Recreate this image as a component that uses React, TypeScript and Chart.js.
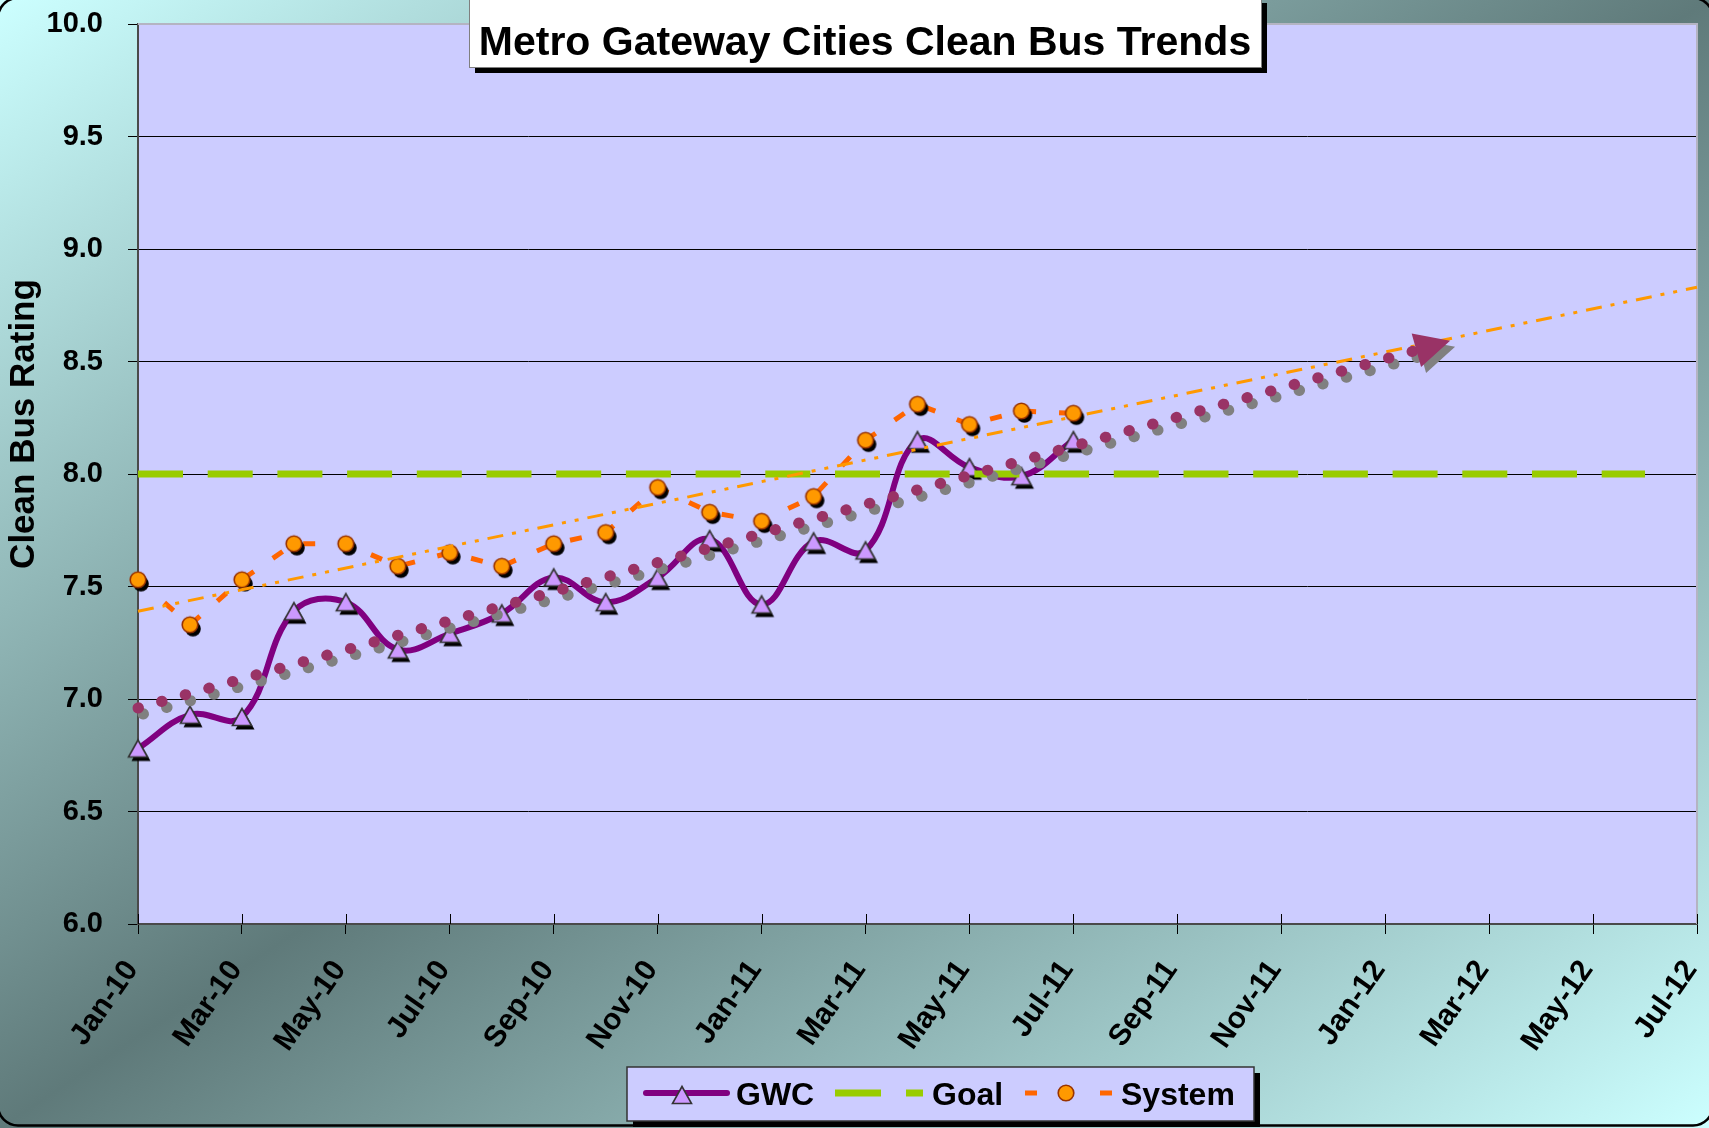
import React, { useEffect, useRef } from "react";
import { Chart, registerables } from "chart.js";

Chart.register(...registerables);

const W = 1709;
const H = 1128;
const FONT = '"Liberation Sans", Arial, Helvetica, sans-serif';

// ---------- data ----------
const months = [
  "Jan-10", "Feb-10", "Mar-10", "Apr-10", "May-10", "Jun-10", "Jul-10", "Aug-10",
  "Sep-10", "Oct-10", "Nov-10", "Dec-10", "Jan-11", "Feb-11", "Mar-11", "Apr-11",
  "May-11", "Jun-11", "Jul-11", "Aug-11", "Sep-11", "Oct-11", "Nov-11", "Dec-11",
  "Jan-12", "Feb-12", "Mar-12", "Apr-12", "May-12", "Jun-12", "Jul-12",
];
const gwc = [6.78, 6.93, 6.92, 7.39, 7.43, 7.22, 7.29, 7.38, 7.54, 7.43, 7.54, 7.71, 7.42, 7.70, 7.66, 8.15, 8.03, 7.99, 8.15];
const system = [7.53, 7.33, 7.53, 7.69, 7.69, 7.59, 7.65, 7.59, 7.69, 7.74, 7.94, 7.83, 7.79, 7.90, 8.15, 8.31, 8.22, 8.28, 8.27];
const goal = [8.0, 8.0, 8.0, 8.0, 8.0, 8.0, 8.0, 8.0, 8.0, 8.0, 8.0, 8.0, 8.0, 8.0, 8.0, 8.0, 8.0, 8.0, 8.0, 8.0, 8.0, 8.0, 8.0, 8.0, 8.0, 8.0, 8.0, 8.0, 8.0, 8.0];
const gwcTrendX = [0, 24.6];
const gwcTrendY = [6.96, 8.55];
const systemTrendX = [0, 30];
const systemTrendY = [7.39, 8.83];
const yMin = 6.0;
const yMax = 10.0;
const yStep = 0.5;
const xStep = 2;
const chartTitle = "Metro Gateway Cities Clean Bus Trends";
const yAxisTitle = "Clean Bus Rating";
const seriesNames = ["GWC", "Goal", "System"];

// ---------- colours ----------
const C_GWC = "#800080";
const C_GWC_FILL = "#CC99FF";
const C_GOAL = "#99CC00";
const C_SYS = "#FF6600";
const C_SYS_FILL = "#FF9900";
const C_SYS_EDGE = "#993300";
const C_GWC_TREND = "#993366";
const C_SYS_TREND = "#FF9900";
const C_PLOT = "#CCCCFF";

function makeMarker(kind: "tri" | "circle", shadow: boolean): HTMLCanvasElement {
  const c = document.createElement("canvas");
  c.width = 44;
  c.height = 44;
  const g = c.getContext("2d")!;
  const cx = 22;
  const cy = 22;
  const path = (ox: number, oy: number) => {
    g.beginPath();
    if (kind === "tri") {
      const hw = 9.5;
      const hh = 8.5;
      g.moveTo(cx + ox, cy + oy - hh);
      g.lineTo(cx + ox + hw, cy + oy + hh);
      g.lineTo(cx + ox - hw, cy + oy + hh);
      g.closePath();
    } else {
      g.arc(cx + ox, cy + oy, 7.8, 0, Math.PI * 2);
    }
  };
  if (shadow) {
    path(3, 4);
    g.fillStyle = "#000";
    g.fill();
  }
  path(0, 0);
  g.fillStyle = kind === "tri" ? C_GWC_FILL : C_SYS_FILL;
  g.fill();
  g.lineWidth = 1.6;
  g.lineJoin = "miter";
  g.strokeStyle = kind === "tri" ? "#333333" : C_SYS_EDGE;
  g.stroke();
  return c;
}

export default function App() {
  const ref = useRef<HTMLCanvasElement>(null);

  useEffect(() => {
    document.body.style.margin = "0";
    const canvas = ref.current!;
    const triS = makeMarker("tri", true);
    const circS = makeMarker("circle", true);
    const triL = makeMarker("tri", false);
    const circL = makeMarker("circle", false);

    const byIndex = (arr: number[]) => arr.map((y, i) => ({ x: i, y }));
    const byXY = (xs: number[], ys: number[]) => ys.map((y, i) => ({ x: xs[i], y }));

    const gwcPts = byIndex(gwc);
    const sysPts = byIndex(system);
    const goalPts = byIndex(goal);

    const bgPlugin = {
      id: "bg",
      beforeDraw(chart: any) {
        const { ctx, chartArea: a } = chart;
        ctx.save();
        const lam = (W * H) / (W * W + H * H);
        const vx = lam * H;
        const vy = lam * W;
        const g = ctx.createLinearGradient(W / 2 - vx, H / 2 - vy, W / 2 + vx, H / 2 + vy);
        g.addColorStop(0, "#CCFFFF");
        g.addColorStop(0.5, "#5F7A7A");
        g.addColorStop(1, "#CCFFFF");
        ctx.fillStyle = g;
        ctx.fillRect(0, 0, W, H);
        ctx.beginPath();
        ctx.roundRect(-2, -2, W + 6, H - 0.5, 20);
        ctx.lineWidth = 2.5;
        ctx.strokeStyle = "#000";
        ctx.stroke();
        ctx.fillStyle = C_PLOT;
        ctx.fillRect(a.left, a.top, a.right - a.left, a.bottom - a.top);
        ctx.restore();
      },
      beforeDatasetsDraw(chart: any) {
        const { ctx, chartArea: a, scales } = chart;
        ctx.save();
        ctx.strokeStyle = "#B4B4C2";
        ctx.lineWidth = 2;
        ctx.beginPath();
        ctx.moveTo(a.left, a.top);
        ctx.lineTo(a.right, a.top);
        ctx.lineTo(a.right, a.bottom);
        ctx.stroke();
        ctx.strokeStyle = "#000";
        ctx.lineWidth = 1;
        for (const t of scales.x.ticks) {
          const px = Math.round(scales.x.getPixelForValue(t.value)) + 0.5;
          ctx.beginPath();
          ctx.moveTo(px, a.bottom - 10);
          ctx.lineTo(px, a.bottom);
          ctx.stroke();
        }
        ctx.restore();
      },
    };

    const shadowPlugin = {
      id: "shadowArrow",
      beforeDatasetDraw(chart: any, args: any) {
        const ds = chart.data.datasets[args.index];
        if (ds.shadow) {
          const ctx = chart.ctx;
          ctx.save();
          ctx.shadowColor = ds.shadow.color;
          ctx.shadowOffsetX = ds.shadow.x;
          ctx.shadowOffsetY = ds.shadow.y;
          ctx.shadowBlur = 0;
        }
      },
      afterDatasetDraw(chart: any, args: any) {
        const ds = chart.data.datasets[args.index];
        const ctx = chart.ctx;
        if (ds.arrow) {
          const pts = args.meta.data;
          const p1 = pts[pts.length - 1];
          const p0 = pts[pts.length - 2];
          const dx = p1.x - p0.x;
          const dy = p1.y - p0.y;
          const len = Math.hypot(dx, dy);
          const ux = dx / len;
          const uy = dy / len;
          const L = 35;
          const hw = 17.5;
          ctx.beginPath();
          ctx.moveTo(p1.x + ux * L, p1.y + uy * L);
          ctx.lineTo(p1.x - uy * hw, p1.y + ux * hw);
          ctx.lineTo(p1.x + uy * hw, p1.y - ux * hw);
          ctx.closePath();
          ctx.fillStyle = ds.borderColor;
          ctx.fill();
        }
        if (ds.shadow) ctx.restore();
      },
    };

    const overlayPlugin = {
      id: "overlay",
      afterDraw(chart: any) {
        const ctx = chart.ctx;
        ctx.save();
        // y axis title
        ctx.save();
        ctx.translate(24, 424);
        ctx.rotate(-Math.PI / 2);
        ctx.font = `bold 35px ${FONT}`;
        ctx.fillStyle = "#000";
        ctx.textAlign = "center";
        ctx.textBaseline = "middle";
        ctx.fillText(yAxisTitle, 0, 0);
        ctx.restore();

        // title box
        const tx = 469, ty = -3, tw = 792, th = 70;
        ctx.fillStyle = "#000";
        ctx.fillRect(tx + 6, ty + 6, tw, th);
        ctx.fillStyle = "#FFFFFF";
        ctx.fillRect(tx, ty, tw, th);
        ctx.strokeStyle = "#7F7F7F";
        ctx.lineWidth = 1;
        ctx.strokeRect(tx + 0.5, ty + 0.5, tw, th);
        ctx.fillStyle = "#000";
        ctx.font = `bold 41px ${FONT}`;
        ctx.textAlign = "center";
        ctx.textBaseline = "alphabetic";
        ctx.fillText(chartTitle, tx + tw / 2, 55);

        // legend
        const lx = 627, ly = 1067, lw = 627, lh = 54;
        ctx.fillStyle = "#000";
        ctx.fillRect(lx + 6, ly + 6, lw, lh);
        ctx.fillStyle = C_PLOT;
        ctx.fillRect(lx, ly, lw, lh);
        ctx.strokeStyle = "#333";
        ctx.lineWidth = 1.5;
        ctx.strokeRect(lx, ly, lw, lh);
        const cy = 1093;
        ctx.font = `bold 32px ${FONT}`;
        ctx.textAlign = "left";
        ctx.fillStyle = "#000";
        ctx.strokeStyle = C_GWC;
        ctx.lineWidth = 6;
        ctx.lineCap = "round";
        ctx.beginPath();
        ctx.moveTo(646, cy);
        ctx.lineTo(727, cy);
        ctx.stroke();
        ctx.drawImage(triL, 682 - triL.width / 2, cy - triL.height / 2 + 2);
        ctx.fillText(seriesNames[0], 736, 1105);
        ctx.lineCap = "butt";
        ctx.strokeStyle = C_GOAL;
        ctx.lineWidth = 7;
        ctx.beginPath();
        ctx.moveTo(835, cy);
        ctx.lineTo(881, cy);
        ctx.moveTo(906, cy);
        ctx.lineTo(923, cy);
        ctx.stroke();
        ctx.fillText(seriesNames[1], 932, 1105);
        ctx.strokeStyle = C_SYS;
        ctx.lineWidth = 5;
        ctx.beginPath();
        ctx.moveTo(1025, cy);
        ctx.lineTo(1037, cy);
        ctx.moveTo(1100, cy);
        ctx.lineTo(1112, cy);
        ctx.stroke();
        ctx.drawImage(circL, 1066 - circL.width / 2, cy - circL.height / 2);
        ctx.fillText(seriesNames[2], 1121, 1105);
        ctx.restore();
      },
    };

    const yTickFont = { family: FONT, size: 29, weight: "bold" as const };
    const xTickFont = { family: FONT, size: 30, weight: "bold" as const };

    const chart = new Chart(canvas, {
      type: "line",
      data: {
        datasets: [
          {
            label: "GWC trend",
            data: byXY(gwcTrendX, gwcTrendY),
            borderColor: C_GWC_TREND,
            borderWidth: 11,
            borderDash: [0.5, 24],
            borderCapStyle: "round",
            pointRadius: 0,
            order: 1,
            clip: false,
            shadow: { color: "#808080", x: 5, y: 6 },
            arrow: true,
          } as any,
          {
            label: "System trend",
            data: byXY(systemTrendX, systemTrendY),
            borderColor: C_SYS_TREND,
            borderWidth: 3,
            borderDash: [16, 9, 4, 9, 4, 9],
            pointRadius: 0,
            order: 2,
            clip: false,
          },
          {
            label: "System markers",
            data: sysPts,
            showLine: false,
            pointStyle: circS,
            pointRadius: 9,
            order: 3,
            clip: false,
          },
          {
            label: "System",
            data: sysPts,
            borderColor: C_SYS,
            borderWidth: 5,
            borderDash: [12, 23],
            pointRadius: 0,
            tension: 0,
            order: 4,
            clip: false,
          },
          {
            label: "Goal",
            data: goalPts,
            borderColor: C_GOAL,
            borderWidth: 7,
            borderDash: [45, 24.7],
            pointRadius: 0,
            order: 5,
            clip: false,
          },
          {
            label: "GWC markers",
            data: gwcPts,
            showLine: false,
            pointStyle: triS,
            pointRadius: 10,
            order: 6,
            clip: false,
          },
          {
            label: "GWC",
            data: gwcPts,
            borderColor: C_GWC,
            borderWidth: 6,
            tension: 0.4,
            pointRadius: 0,
            order: 7,
            clip: false,
          },
        ],
      },
      options: {
        animation: false,
        responsive: false,
        devicePixelRatio: 1,
        events: [],
        layout: { padding: { top: 24, right: 12, left: 0, bottom: 0 } },
        plugins: {
          legend: { display: false },
          title: { display: false },
          tooltip: { enabled: false },
        },
        scales: {
          x: {
            type: "linear",
            min: 0,
            max: months.length - 1,
            afterFit: (s: any) => {
              s.height = 204;
              s.paddingLeft = 0;
              s.paddingRight = 0;
            },
            ticks: {
              stepSize: xStep,
              autoSkip: false,
              minRotation: 55,
              maxRotation: 55,
              padding: 20,
              labelOffset: -6,
              color: "#000",
              font: xTickFont,
              callback: (v: any) => months[Math.round(Number(v))] ?? "",
            },
            grid: {
              drawOnChartArea: false,
              drawTicks: true,
              tickLength: 10,
              tickColor: "#000",
              tickWidth: 1,
            },
            border: { color: "#4A4A4A", width: 2 },
          },
          y: {
            min: yMin,
            max: yMax,
            afterFit: (s: any) => {
              s.width = 138;
              s.paddingTop = 0;
              s.paddingBottom = 0;
            },
            ticks: {
              stepSize: yStep,
              padding: 25,
              color: "#000",
              font: yTickFont,
              callback: (v: any) => Number(v).toFixed(1),
            },
            grid: {
              color: (c: any) => (c.tick && c.tick.value === yMax ? "#B4B4C2" : "#000"),
              lineWidth: 1,
              tickLength: 10,
              tickColor: "#000",
            },
            border: { color: "#4A4A4A", width: 2 },
          },
        },
      } as any,
      plugins: [bgPlugin, shadowPlugin, overlayPlugin],
    });

    return () => chart.destroy();
  }, []);

  return <canvas ref={ref} width={W} height={H} style={{ display: "block" }} />;
}
